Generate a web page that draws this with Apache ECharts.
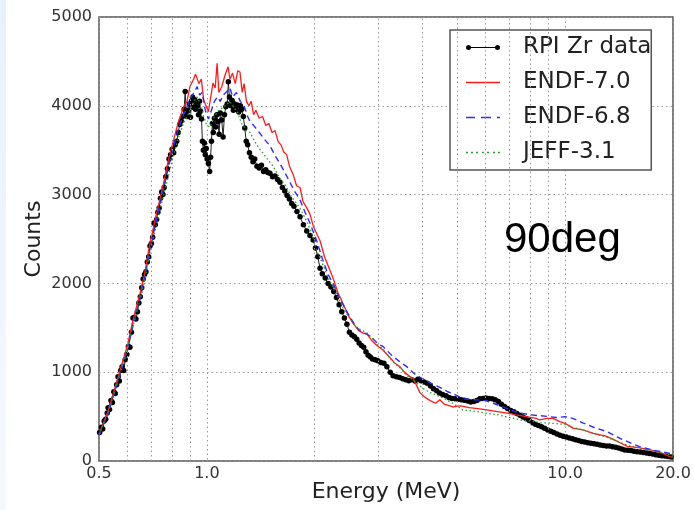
<!DOCTYPE html>
<html>
<head>
<meta charset="utf-8">
<script src="https://cdn.jsdelivr.net/npm/echarts@6/dist/echarts.min.js"></script>
<style>
html,body{margin:0;padding:0;background:#fff;}
#chart{width:694px;height:510px;}
</style>
</head>
<body>
<div id="chart"></div>
<script>
// ---- data ----
const xTickLabels = [0.5, 1, 10, 20];
const xMinorGrid = [0.6, 0.7, 0.8, 0.9, 2, 3, 4, 5, 6, 7, 8, 9];
const yTicks = [0, 1000, 2000, 3000, 4000, 5000];
const seriesNames = ['RPI Zr data', 'ENDF-7.0', 'ENDF-6.8', 'JEFF-3.1'];
const annotation = '90deg';

const rpiE = [0.502,0.508,0.512,0.517,0.522,0.527,0.530,0.535,0.540,0.545,0.550,0.555,0.560,0.565,0.570,0.575,0.580,0.586,0.592,0.598,
0.604,0.610,0.616,0.622,0.628,0.634,0.640,0.646,0.652,0.658,0.664,0.670,0.676,0.682,0.688,0.694,0.700,0.706,0.712,0.718,
0.724,0.730,0.736,0.742,0.748,0.754,0.760,0.768,0.776,0.784,0.792,0.800,0.808,0.816,0.824,0.832,0.840,0.848,0.856,0.864,
0.870,0.876,0.882,0.888,0.894,0.900,0.906,0.912,0.918,0.924,0.930,0.936,0.942,0.948,0.954,0.960,0.966,0.972,0.978,0.984,
0.990,0.996,1.002,1.010,1.018,1.024,1.030,1.036,1.042,1.050,1.058,1.066,1.074,1.082,1.090,1.100,1.110,1.120,1.130,1.140,
1.148,1.156,1.166,1.176,1.186,1.196,1.206,1.216,1.228,1.240,1.252,1.264,1.276,1.288,1.300,1.315,1.330,1.345,1.360,1.380,
1.400,1.420,1.440,1.460,1.480,1.500,1.525,1.550,1.575,1.600,1.625,1.650,1.675,1.700,1.725,1.750,1.785,1.820,1.860,1.900,
1.940,1.980,2.010,2.040,2.070,2.100,2.140,2.180,2.220,2.260,2.300,2.340,2.380,2.420,2.460,2.500,2.540,2.580,2.620,2.660,
2.700,2.740,2.780,2.820,2.860,2.900,2.950,
3.00,3.06,3.12,3.18,3.25,3.31,3.38,3.45,3.52,3.59,3.66,3.73,3.81,3.88,3.96,4.04,4.12,4.21,4.29,4.38,
4.46,4.55,4.65,4.74,4.83,4.93,5.03,5.13,5.23,5.34,5.45,5.56,5.67,5.78,5.90,6.01,6.13,6.26,6.38,6.51,
6.64,6.77,6.91,7.05,7.19,7.33,7.48,7.63,7.78,7.94,8.10,8.26,8.42,8.59,8.76,8.94,9.12,9.30,9.49,9.68,
9.87,10.07,10.27,10.48,10.69,10.90,11.12,11.34,11.57,11.80,12.04,12.28,12.52,12.77,13.03,13.29,13.56,13.83,14.10,14.39,
14.67,14.97,15.27,15.57,15.88,16.20,16.53,16.86,17.19,17.54,17.89,18.25,18.61,18.98,19.36,19.75];
const rpiC = [320,380,360,450,470,540,600,580,680,660,780,760,860,950,900,1020,1060,1020,1140,1200,
1290,1280,1450,1610,1620,1600,1680,1780,1850,1950,2050,2100,2130,2240,2300,2420,2450,2520,2680,2660,
2720,2800,2850,2960,3030,3000,3080,3200,3290,3400,3450,3510,3470,3560,3600,3700,3790,3830,3880,3960,
4160,3900,3880,3950,4020,3870,4050,4100,3980,4070,3960,4020,4000,3900,4050,3940,3850,3600,3500,3580,
3450,3520,3400,3350,3260,3420,3600,3800,3700,3860,3760,3900,3820,3680,3920,3840,3650,3900,3990,4020,
4270,4100,4000,4060,3950,4020,3960,4010,3930,4000,3960,3880,3750,3600,3560,3470,3420,3370,3400,3320,
3300,3330,3260,3280,3250,3240,3200,3210,3170,3140,3080,3040,2990,2950,2900,2870,2810,2750,2660,2590,
2540,2490,2400,2300,2170,2110,2060,2000,1960,1910,1840,1760,1680,1610,1540,1450,1420,1400,1370,1330,
1300,1280,1230,1190,1170,1150,1140,
1130,1110,1100,1060,1000,960,950,940,925,915,905,915,900,920,905,890,875,845,815,790,
765,750,735,715,705,700,695,690,685,675,665,670,680,700,705,710,705,700,690,670,
640,615,590,570,555,535,515,495,475,455,430,415,400,385,370,350,335,320,305,290,
280,270,260,250,240,230,220,215,205,200,195,190,180,175,170,168,160,155,145,135,
125,120,118,110,105,100,95,90,85,78,70,65,60,55,50,45];

const endf70E = [0.50,0.53,0.565,0.60,0.62,0.65,0.67,0.69,0.72,0.75,0.78,0.80,0.83,0.86,0.88,0.897,0.918,0.93,0.95,0.965,
0.98,1.01,1.04,1.055,1.068,1.08,1.10,1.125,1.146,1.16,1.18,1.20,1.22,1.237,1.255,1.27,1.29,1.31,1.33,1.35,
1.37,1.40,1.43,1.46,1.49,1.52,1.55,1.58,1.61,1.64,1.67,1.70,1.74,1.78,1.82,1.855,1.90,1.94,1.98,2.03,
2.07,2.13,2.18,2.25,2.32,2.40,2.48,2.56,2.65,2.73,2.80,2.88,2.98,3.10,3.22,3.35,3.46,3.58,3.69,3.76,
3.85,3.93,4.05,4.20,4.35,4.47,4.60,4.86,5.10,5.40,5.70,6.05,6.40,6.90,7.30,7.80,8.30,8.50,8.90,9.25,
9.70,10.0,10.5,11.2,12.0,13.0,14.0,14.9,16.0,17.25,18.5,19.6,20.0];
const endf70C = [300,560,940,1300,1560,1880,2100,2400,2750,3050,3380,3550,3800,3980,4050,4215,4300,4357,4250,4300,
4065,3933,4256,4200,4480,4150,4215,4350,4440,4300,4369,4250,4395,4380,4150,4250,4050,4000,4050,3900,
3950,3860,3880,3780,3800,3700,3720,3600,3560,3480,3450,3320,3230,3100,3080,2920,2850,2780,2650,2550,
2480,2300,2200,2060,1900,1770,1640,1550,1470,1440,1430,1360,1300,1250,1180,1100,1060,990,950,930,
850,770,720,680,650,690,640,610,620,600,590,575,560,540,520,500,480,462,480,480,
440,425,370,350,310,280,220,165,150,125,95,50,40];

const endf68E = [0.50,0.53,0.565,0.60,0.62,0.65,0.67,0.69,0.72,0.75,0.78,0.80,0.83,0.86,0.88,0.90,0.92,0.94,0.955,0.97,
0.99,1.01,1.03,1.05,1.07,1.09,1.11,1.13,1.16,1.18,1.21,1.24,1.27,1.30,1.32,1.35,1.40,1.45,1.50,1.55,
1.60,1.65,1.70,1.75,1.82,1.88,1.94,2.03,2.10,2.18,2.25,2.33,2.40,2.51,2.60,2.70,2.80,2.90,3.00,3.10,
3.30,3.45,3.62,3.80,3.95,4.11,4.30,4.47,4.70,4.86,5.20,5.60,6.00,6.30,6.70,7.20,7.50,8.00,8.50,9.00,
9.50,10.0,10.5,11.2,12.0,13.1,14.0,14.5,15.5,16.2,17.5,18.8,19.6,20.0];
const endf68C = [290,530,900,1250,1500,1820,2050,2340,2680,2990,3300,3480,3720,3900,3980,4080,4150,4215,4120,4150,
3950,3850,3950,4050,4100,4050,4120,4150,4200,4100,4150,4050,4000,3880,3820,3780,3700,3620,3550,3440,
3350,3250,3150,3050,2940,2800,2680,2470,2280,2100,2000,1860,1760,1620,1520,1450,1430,1380,1320,1290,
1180,1120,1060,980,940,900,860,830,780,760,700,690,680,650,610,560,540,520,510,500,
490,500,480,430,380,330,270,240,190,160,125,100,85,70];

const jeff31E = [0.50,0.53,0.565,0.60,0.62,0.65,0.67,0.69,0.72,0.75,0.78,0.80,0.83,0.86,0.88,0.90,0.92,0.94,0.96,0.98,
1.00,1.02,1.05,1.08,1.11,1.14,1.16,1.19,1.22,1.25,1.29,1.32,1.36,1.40,1.47,1.53,1.60,1.66,1.72,1.78,
1.82,1.90,1.97,2.03,2.10,2.18,2.25,2.33,2.40,2.51,2.62,2.72,2.80,2.90,3.00,3.10,3.30,3.46,3.62,3.80,
4.00,4.20,4.50,4.86,5.18,5.60,6.05,6.50,7.00,7.50,8.00,8.50,8.95,9.50,10.0,10.5,11.2,12.0,13.0,14.0,
15.0,16.0,17.25,18.5,19.6,20.0];
const jeff31C = [300,540,910,1260,1500,1800,2020,2300,2620,2920,3200,3380,3620,3800,3880,3960,4050,4100,4020,3880,
3780,3760,3880,3950,3980,4020,4046,3980,3920,3800,3720,3700,3600,3520,3410,3320,3183,3100,2980,2900,
2845,2700,2550,2357,2230,2060,1960,1830,1720,1600,1500,1470,1440,1380,1310,1260,1120,1050,960,900,
820,770,720,650,574,560,537,520,490,462,450,430,428,420,410,380,350,310,270,220,
175,150,120,95,70,55];

function pairs(xs, ys) { return xs.map((x, i) => [x, ys[i]]); }

const FONT = 'DejaVu Sans';
const chart = echarts.init(document.getElementById('chart'), null, {renderer: 'canvas'});
const gridLine = {color: '#999', width: 1, type: [1.5, 3]};

const RED = '#ff1a1a', BLUE = '#2b2bff', GREEN = '#2a9a2a';

chart.setOption({
  animation: false,
  backgroundColor: '#fff',
  graphic: [{
    type: 'rect', left: 0, top: 0, z: -10,
    shape: {width: 6, height: 510},
    style: {fill: new echarts.graphic.LinearGradient(0, 0, 0, 1, [
      {offset: 0, color: '#e6f2fc'}, {offset: 1, color: '#f4f9fe'}])}
  }, {
    type: 'text', left: 504, top: 219, z: 10,
    style: {text: annotation, fill: '#000', font: '42px "Liberation Sans", Arial, sans-serif'}
  }],
  grid: {left: 99, right: 21, top: 17, bottom: 49, show: true, borderColor: '#555', borderWidth: 1.5, backgroundColor: 'transparent'},
  legend: {
    left: 450, top: 30, orient: 'vertical',
    data: [
      {name: seriesNames[0], icon: 'path://M0,2.5A2.5,2.5,0,1,1,5,2.5A2.5,2.5,0,1,1,0,2.5Z M29,2.5A2.5,2.5,0,1,1,34,2.5A2.5,2.5,0,1,1,29,2.5Z M2.5,2L31.5,2L31.5,3L2.5,3Z', itemStyle: {color: '#000'}},
      {name: seriesNames[1], icon: 'path://M0,0L34,0L34,1.4L0,1.4Z', itemStyle: {color: RED}},
      {name: seriesNames[2], icon: 'path://M0,0L9,0L9,1.6L0,1.6Z M15,0L25,0L25,1.6L15,1.6Z M31,0L34,0L34,1.6L31,1.6Z', itemStyle: {color: BLUE}},
      {name: seriesNames[3], icon: 'path://M0,0L2,0L2,1.6L0,1.6Z M5,0L7,0L7,1.6L5,1.6Z M10,0L12,0L12,1.6L10,1.6Z M16,0L18,0L18,1.6L16,1.6Z M21,0L23,0L23,1.6L21,1.6Z M27,0L29,0L29,1.6L27,1.6Z M32,0L34,0L34,1.6L32,1.6Z', itemStyle: {color: GREEN}}
    ],
    symbolKeepAspect: true,
    itemWidth: 34, itemHeight: 8, itemGap: 12,
    padding: [6, 0, 6, 16],
    borderColor: '#555', borderWidth: 1.5, backgroundColor: '#fff',
    textStyle: {fontFamily: FONT, fontSize: 23, color: '#222', padding: [0, 0, 0, 18]}
  },
  xAxis: {
    type: 'log', logBase: 10, min: 0.5, max: 20,
    name: 'Energy (MeV)', nameLocation: 'middle', nameGap: 20, nameMoveOverlap: false,
    nameTextStyle: {fontFamily: FONT, fontSize: 22, color: '#222'},
    axisLine: {show: false},
    axisTick: {show: false},
    axisLabel: {fontFamily: FONT, fontSize: 16, color: '#333', margin: 5,
      formatter: v => xTickLabels.some(t => Math.abs(t - v) < 1e-6) ? Number(v).toFixed(1) : ''},
    splitLine: {show: true, lineStyle: gridLine}
  },
  yAxis: {
    type: 'value', min: yTicks[0], max: yTicks[yTicks.length - 1], interval: 1000,
    name: 'Counts', nameLocation: 'middle', nameGap: 54, nameMoveOverlap: false,
    nameTextStyle: {fontFamily: FONT, fontSize: 22, color: '#222'},
    axisLine: {show: false},
    axisTick: {show: false},
    axisLabel: {fontFamily: FONT, fontSize: 16, color: '#333', margin: 7, formatter: v => String(v)},
    splitLine: {show: true, lineStyle: gridLine}
  },
  series: [
    {
      name: '_grid', type: 'line', data: [], z: 1, silent: true,
      markLine: {silent: true, symbol: 'none', label: {show: false}, lineStyle: gridLine,
        data: xMinorGrid.map(v => ({xAxis: v}))}
    },
    {
      name: seriesNames[0], type: 'line', data: pairs(rpiE, rpiC), z: 2,
      symbol: 'circle', symbolSize: 5.5, showAllSymbol: true,
      lineStyle: {color: '#222', width: 1}, itemStyle: {color: '#000'}
    },
    {
      name: seriesNames[1], type: 'line', data: pairs(endf70E, endf70C), z: 3,
      symbol: 'none', lineStyle: {color: RED, width: 1.3}, itemStyle: {color: RED}
    },
    {
      name: seriesNames[2], type: 'line', data: pairs(endf68E, endf68C), z: 4,
      symbol: 'none', lineStyle: {color: BLUE, width: 1.4, type: [6, 4]}, itemStyle: {color: BLUE}
    },
    {
      name: seriesNames[3], type: 'line', data: pairs(jeff31E, jeff31C), z: 5,
      symbol: 'none', lineStyle: {color: GREEN, width: 1.3, type: [1.5, 2.5]}, itemStyle: {color: GREEN}
    }
  ]
});
</script>
</body>
</html>
